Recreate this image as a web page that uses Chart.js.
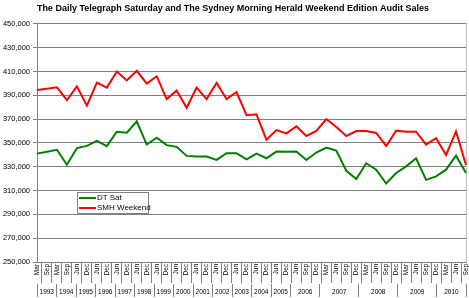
<!DOCTYPE html>
<html>
<head>
    <title>Audit Sales</title>
    <script src="https://cdn.jsdelivr.net/npm/chart.js"></script>
    <style>
        body { margin: 0; background: #fff; }
        #wrap { position: relative; width: 469px; height: 298px; }
        #legend {
            position: absolute; left: 77px; top: 192px; width: 70px; height: 20px;
            border: 1px solid #808080; background: #fff;
            font: 8px "Liberation Sans", Arial, sans-serif; color: #000;
        }
        #legend div { position: absolute; left: 1px; height: 10px; line-height: 10px; white-space: nowrap; }
        #legend span { display: inline-block; width: 17px; height: 2px; vertical-align: middle; margin-right: 1px; }
    </style>
</head>
<body>
<div id="wrap">
    <canvas id="salesChart" width="469" height="298"></canvas>
    <div id="legend"></div>
</div>

<script>
const periods = [
    'Mar','Sep', 'Mar','Sep', 'Jun','Dec', 'Jun','Dec', 'Jun','Dec', 'Jun','Dec',
    'Jun','Dec', 'Jun','Dec', 'Jun','Dec', 'Jun','Dec', 'Jun','Dec', 'Jun','Dec',
    'Jun','Dec', 'Jun','Sep','Dec', 'Mar','Jun','Sep','Dec', 'Mar','Jun','Sep','Dec',
    'Mar','Jun','Sep','Dec', 'Mar','Jun','Sep'
];
const years = ['1993','1994','1995','1996','1997','1998','1999','2000','2001',
               '2002','2003','2004','2005','2006','2007','2008','2009','2010'];
const yearSpans = [2,2,2,2,2,2,2,2,2,2,2,2,2,3,4,4,4,3];

const dtSat = [
    341000, 342500, 344200, 331700, 345600, 347500, 351800, 347300, 359400, 358600,
    368100, 348600, 354300, 348100, 346700, 339100, 338500, 338500, 335700, 341400,
    341400, 336200, 341000, 337100, 342700, 342500, 342700, 335700, 341900, 346100,
    343600, 326600, 319600, 332900, 327500, 315900, 324700, 330300, 337100, 319000,
    321900, 327500, 339300, 324700
];
const smhWeekend = [
    394400, 395500, 396700, 385900, 397500, 381200, 400700, 396400, 410000, 402400,
    410500, 399800, 406000, 386800, 393900, 379500, 396400, 386800, 400300, 386800,
    392700, 373200, 374000, 352600, 360800, 358000, 363900, 355800, 360000, 370000,
    363400, 355800, 360000, 360000, 358300, 347300, 360300, 359400, 359400, 348600,
    354000, 339900, 359700, 331400
];

const FONT = '"Liberation Sans", Arial, sans-serif';
const GRID = '#808080';

// year row ticks: a separator at each group edge, a label at each group centre
const yearTicks = [];
const yearTickLabels = [];
let start = 0;
yearTicks.push(-0.5); yearTickLabels.push(null);
yearSpans.forEach((n, i) => {
    yearTicks.push(start + (n - 1) / 2); yearTickLabels.push(years[i]);
    start += n;
    yearTicks.push(start - 0.5); yearTickLabels.push(null);
});

const series = [
    { label: 'DT Sat', data: dtSat, color: '#008000' },
    { label: 'SMH Weekend', data: smhWeekend, color: '#ff0000' }
];

const ctx = document.getElementById('salesChart').getContext('2d');
const chart = new Chart(ctx, {
    type: 'line',
    data: {
        labels: periods,
        datasets: series.map(s => ({
            label: s.label,
            data: s.data,
            borderColor: s.color,
            backgroundColor: s.color,
            borderWidth: 2,
            pointRadius: 0,
            tension: 0,
            fill: false,
            xAxisID: 'x'
        }))
    },
    options: {
        responsive: false,
        animation: false,
        layout: { padding: { left: 0, right: 3, top: 0, bottom: 1 } },
        plugins: {
            legend: { display: false },
            tooltip: { enabled: false },
            title: {
                display: true,
                text: 'The Daily Telegraph Saturday and The Sydney Morning Herald Weekend Edition Audit Sales',
                color: '#000',
                font: { family: FONT, size: 9, weight: 'bold' },
                padding: { top: 3, bottom: 10 }
            }
        },
        scales: {
            y: {
                min: 250000,
                max: 450000,
                afterFit: s => { s.width = 37; },
                ticks: {
                    stepSize: 20000,
                    color: '#000',
                    padding: 3,
                    font: { family: FONT, size: 7.5 },
                    callback: v => v.toLocaleString('en-US')
                },
                grid: { color: GRID, tickLength: 4 },
                border: { color: GRID }
            },
            right: {
                position: 'right',
                min: 250000,
                max: 450000,
                afterFit: s => { s.width = 0; },
                ticks: { display: false },
                grid: { drawOnChartArea: false, drawTicks: false },
                border: { color: '#c0c0c0' }
            },
            x: {
                position: 'bottom',
                afterFit: s => { s.height = 22; },
                ticks: {
                    autoSkip: false,
                    minRotation: 90,
                    maxRotation: 90,
                    padding: -19,
                    color: '#000',
                    font: { family: FONT, size: 6.5 }
                },
                grid: { offset: true, drawOnChartArea: false, tickLength: 21, color: GRID },
                border: { color: GRID }
            },
            years: {
                type: 'linear',
                position: 'bottom',
                min: -0.5,
                max: 43.5,
                afterFit: s => { s.height = 13; },
                afterBuildTicks: s => { s.ticks = yearTicks.map(v => ({ value: v })); },
                ticks: {
                    autoSkip: false,
                    maxRotation: 0,
                    padding: -9,
                    color: '#000',
                    font: { family: FONT, size: 6.5 },
                    callback: (v, i) => yearTickLabels[i] || ''
                },
                grid: {
                    drawOnChartArea: false,
                    tickLength: 13,
                    color: c => yearTickLabels[c.index] ? 'rgba(0,0,0,0)' : GRID
                },
                border: { display: false }
            }
        }
    }
});

document.getElementById('legend').innerHTML = series.map((s, i) =>
    `<div style="top:${i * 10}px"><span style="background:${s.color}"></span>${s.label}</div>`
).join('');
</script>
</body>
</html>
